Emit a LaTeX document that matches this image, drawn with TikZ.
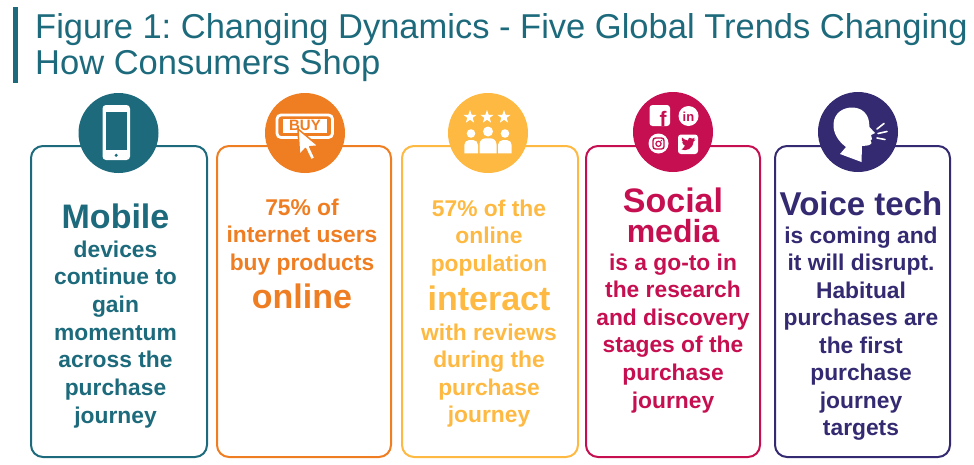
\documentclass[tikz,border=0pt]{standalone}
\usepackage{fontspec}
\setmainfont{Liberation Sans}
\usetikzlibrary{shapes.geometric}
\frenchspacing
\definecolor{cTeal}{RGB}{28,106,123}
\definecolor{cOrange}{RGB}{239,125,34}
\definecolor{cYellow}{RGB}{253,185,65}
\definecolor{cMag}{RGB}{198,15,80}
\definecolor{cNavy}{RGB}{51,42,113}
\tikzset{
  box/.style={draw, line width=2pt, rounded corners=12pt, minimum height=311pt, inner sep=0pt},
  badge/.style={circle, minimum size=80pt, inner sep=0pt},
  big/.style={font=\fontsize{34}{40}\selectfont\bfseries, inner sep=0pt, anchor=base},
  sm/.style={font=\fontsize{22.8}{27.6}\selectfont\bfseries, inner sep=0pt, anchor=base},
  ttl/.style={font=\fontsize{34.5}{40}\selectfont, text=cTeal, inner sep=0pt, anchor=base west}
}
\begin{document}
\begin{tikzpicture}[x=1pt,y=-1pt]
\useasboundingbox (0,0) rectangle (974,464);
% title
\fill[cTeal] (12.5,7) rectangle (17.5,83);
\node[ttl] (title1) at (35,38) {Figure 1: Changing Dynamics - Five Global Trends Changing};
\node[ttl] (title2) at (35,74) {How Consumers Shop};
% boxes
\node[box, draw=cTeal, minimum width=176pt] (b1) at (119,301.5) {};
\node[box, draw=cOrange, minimum width=174pt] (b2) at (304,301.5) {};
\node[box, draw=cYellow, minimum width=176pt] (b3) at (490,301.5) {};
\node[box, draw=cMag, minimum width=174pt] (b4) at (673,301.5) {};
\node[box, draw=cNavy, minimum width=175pt] (b5) at (862.5,301.5) {};
% badges
\node[badge, fill=cTeal] (c1) at (118.5,133) {};
\node[badge, fill=cOrange] (c2) at (305,133) {};
\node[badge, fill=cYellow] (c3) at (488,133) {};
\node[badge, fill=cMag] (c4) at (673,132) {};
\node[badge, fill=cNavy] (c5) at (858,132) {};
% phone icon
\fill[white, rounded corners=3.5pt] (102.5,105) rectangle (130,160);
\fill[cTeal] (105.5,112) rectangle (127,150);
\fill[cTeal] (116.2,155.3) circle (1.7);
% buy icon
\draw[white, line width=2.8pt, rounded corners=4pt] (277,115) rectangle (332.5,137.5);
\fill[white] (283,118.5) rectangle (327,133);
\node[font=\fontsize{15}{15}\selectfont\bfseries, text=cOrange, inner sep=0pt] (buy) at (305,125.8) {BUY};
\filldraw[fill=white, draw=cOrange, line width=1.5pt, line join=round]
  (298,129) -- (299.5,155) -- (305.5,148.5) -- (311,160) -- (315,158) -- (309.8,146.8) -- (318.5,146) -- cycle;
% stars and people
\foreach \sx in {470,487,504}
  \node[star, star points=5, star point ratio=2.5, fill=white, minimum size=14pt, inner sep=0pt] at (\sx,117) {};
\fill[white] (471,133.5) circle (4.3);
\fill[white] (488,131.5) circle (5);
\fill[white] (505,133.5) circle (4.3);
\fill[white] (464.3,153.3) [rounded corners=5pt] -- (464.3,140) -- (478,140) [sharp corners] -- (478,153.3) -- cycle;
\fill[white] (479.5,153.3) [rounded corners=6pt] -- (479.5,138.3) -- (496.5,138.3) [sharp corners] -- (496.5,153.3) -- cycle;
\fill[white] (498,153.3) [rounded corners=5pt] -- (498,140) -- (511.7,140) [sharp corners] -- (511.7,153.3) -- cycle;
% social icons
\fill[white, rounded corners=3pt] (649.5,105) rectangle (670,126);
\node[font=\fontsize{21}{21}\selectfont\bfseries, text=cMag, inner sep=0pt, anchor=base] (fb) at (663,126.5) {f};
\fill[white] (688.5,116) circle (10);
\node[font=\fontsize{13}{13}\selectfont\bfseries, text=cMag, inner sep=0pt] (li) at (688.5,116.5) {in};
\fill[white] (658.5,143.5) circle (10);
\draw[cMag, line width=1.4pt, rounded corners=2.5pt] (653,138) rectangle (664,149);
\draw[cMag, line width=1.2pt] (658.5,143.8) circle (2.6);
\fill[cMag] (661.4,140.6) circle (0.8);
\fill[white, rounded corners=3pt] (678,134.5) rectangle (698,154);
\fill[cMag] (681.5,149.5) .. controls (686,151.5) and (693,149) .. (693.5,141.5) -- (695.5,139.5) -- (693.5,139.8) -- (694.8,137.8) -- (692.5,138.6) .. controls (691,137) and (688,137.5) .. (688,140.5) .. controls (685.5,140.3) and (683.5,139) .. (682,137.5) .. controls (681,139.5) and (682,141.5) .. (683.3,142.2) -- (682.2,142) .. controls (682.5,144) and (683.5,145) .. (685,145.5) .. controls (684,147.5) and (682.8,149) .. (681.5,149.5) -- cycle;
% head icon
\fill[white] (840,154) -- (846,147) .. controls (838,141) and (833,133) .. (833.5,124) .. controls (834,113) and (843,107.5) .. (852,107.5) .. controls (862,107.5) and (868,114) .. (869,122) -- (869.5,127) -- (875,133) -- (871,135) -- (872,139) -- (870.5,140.5) -- (871.5,143) .. controls (870,146) and (866,145.5) .. (862,146) -- (861.5,162) -- cycle;
\draw[white, line width=1.6pt, line cap=round] (877,129) -- (884,123.5);
\draw[white, line width=1.6pt, line cap=round] (878,133.5) -- (887,131.5);
\draw[white, line width=1.6pt, line cap=round] (877,138) -- (885,139.5);
% box 1 text
\node[big, text=cTeal] (m1) at (115.5,228) {Mobile};
\foreach \t [count=\i from 0] in {devices,continue to,gain,momentum,across the,purchase,journey}
  \node[sm, text=cTeal] (t1-\i) at (115.5,257+27.7*\i) {\t};
% box 2 text
\foreach \t [count=\i from 0] in {75\% of,internet users,buy products}
  \node[sm, text=cOrange] (t2-\i) at (302,215+27.9*\i) {\t};
\node[big, text=cOrange] (m2) at (302,308) {online};
% box 3 text
\foreach \t [count=\i from 0] in {57\% of the,online,population}
  \node[sm, text=cYellow] (t3a-\i) at (489,216+27.6*\i) {\t};
\node[big, text=cYellow] (m3) at (489,310) {interact};
\foreach \t [count=\i from 0] in {with reviews,during the,purchase,journey}
  \node[sm, text=cYellow] (t3b-\i) at (489,340+27.5*\i) {\t};
% box 4 text
\node[big, text=cMag] (m4a) at (673,212) {Social};
\node[big, font=\fontsize{32}{40}\selectfont\bfseries, text=cMag] (m4b) at (673,242) {media};
\foreach \t [count=\i from 0] in {is a go-to in,the research,and discovery,stages of the,purchase,journey}
  \node[sm, text=cMag] (t4-\i) at (673,270+27.6*\i) {\t};
% box 5 text
\node[big, font=\fontsize{33}{40}\selectfont\bfseries, text=cNavy] (m5) at (861,215) {Voice tech};
\foreach \t [count=\i from 0] in {is coming and,it will disrupt.,Habitual,purchases are,the first,purchase,journey,targets}
  \node[sm, text=cNavy] (t5-\i) at (861,243+27.5*\i) {\t};
\end{tikzpicture}
\end{document}
